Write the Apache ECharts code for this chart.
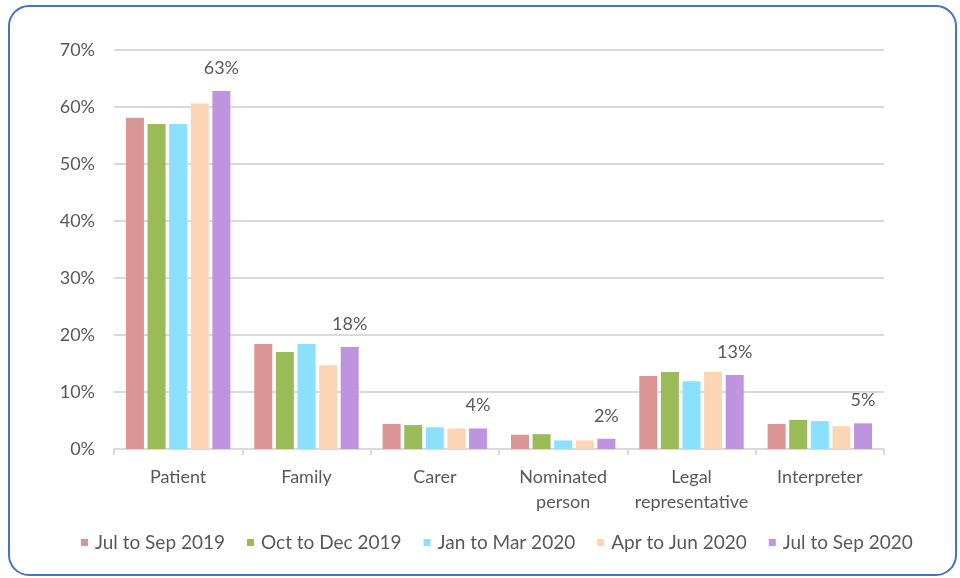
<!DOCTYPE html>
<html lang="en">
<head>
    <meta charset="UTF-8">
    <title>Who made the request</title>
    <script src="https://cdn.jsdelivr.net/npm/echarts@6/dist/echarts.min.js"></script>
    <style>
        html, body { margin: 0; padding: 0; background: #fff; }
        #chart { width: 960px; height: 578px; }
    </style>
</head>
<body>
<div id="chart"></div>
<script>
    // categories along the x axis
    var categories = ['Patient', 'Family', 'Carer', 'Nominated\nperson', 'Legal\nrepresentative', 'Interpreter'];
    // one array per quarter, in percent
    var jul2019 = [58.1, 18.4, 4.4, 2.5, 12.8, 4.4];
    var oct2019 = [57.0, 17.0, 4.2, 2.6, 13.5, 5.1];
    var jan2020 = [57.0, 18.4, 3.8, 1.5, 11.9, 4.9];
    var apr2020 = [60.6, 14.7, 3.6, 1.5, 13.5, 4.0];
    var jul2020 = [62.8, 17.9, 3.6, 1.8, 13.0, 4.5];
    var seriesNames = ['Jul to Sep 2019', 'Oct to Dec 2019', 'Jan to Mar 2020', 'Apr to Jun 2020', 'Jul to Sep 2020'];
    var colours = ['#D99694', '#9BBB59', '#8BDFFF', '#FCD5B5', '#BE93DF'];
    var yTicks = [0, 10, 20, 30, 40, 50, 60, 70];

    var font = 'Lato, "Open Sans", sans-serif';
    var textGrey = '#595959';
    var lineGrey = '#D9D9D9';

    var chart = echarts.init(document.getElementById('chart'), null, { renderer: 'canvas' });

    var allData = [jul2019, oct2019, jan2020, apr2020, jul2020];
    var series = allData.map(function (d, i) {
        var s = {
            name: seriesNames[i],
            type: 'bar',
            data: d,
            barWidth: 18,
            barGap: '20%',
            itemStyle: { color: colours[i] },
            emphasis: { disabled: true }
        };
        // only the latest quarter gets value labels
        if (i === allData.length - 1) {
            s.label = {
                show: true,
                position: 'top',
                distance: 14,
                color: textGrey,
                fontFamily: font,
                fontSize: 18,
                formatter: function (p) { return Math.round(p.value) + '%'; }
            };
        }
        return s;
    });

    chart.setOption({
        backgroundColor: '#FFFFFF',
        animation: false,
        graphic: [{
            type: 'rect',
            shape: { x: 9, y: 6, width: 947, height: 569, r: 20 },
            style: { fill: 'none', stroke: '#4472C4', lineWidth: 2 },
            silent: true
        }],
        grid: { left: 114, right: 76, top: 50, bottom: 129, containLabel: false },
        legend: {
            bottom: 21,
            left: 76,
            itemWidth: 7,
            itemHeight: 7,
            itemGap: 22,
            icon: 'rect',
            textStyle: { color: textGrey, fontFamily: font, fontSize: 19, padding: [0, 0, 0, 2] },
            data: seriesNames
        },
        xAxis: {
            type: 'category',
            data: categories,
            axisLine: { lineStyle: { color: lineGrey, width: 2 } },
            axisTick: { show: true, length: 6, lineStyle: { color: lineGrey, width: 2 } },
            axisLabel: {
                interval: 0,
                color: textGrey,
                fontFamily: font,
                fontSize: 18,
                margin: 16,
                lineHeight: 25
            }
        },
        yAxis: {
            type: 'value',
            min: yTicks[0],
            max: yTicks[yTicks.length - 1],
            interval: 10,
            axisLine: { show: false },
            axisTick: { show: false },
            splitLine: { lineStyle: { color: lineGrey, width: 2 } },
            axisLabel: {
                color: textGrey,
                fontFamily: font,
                fontSize: 18,
                margin: 19,
                formatter: '{value}%'
            }
        },
        series: series
    });
</script>
</body>
</html>
